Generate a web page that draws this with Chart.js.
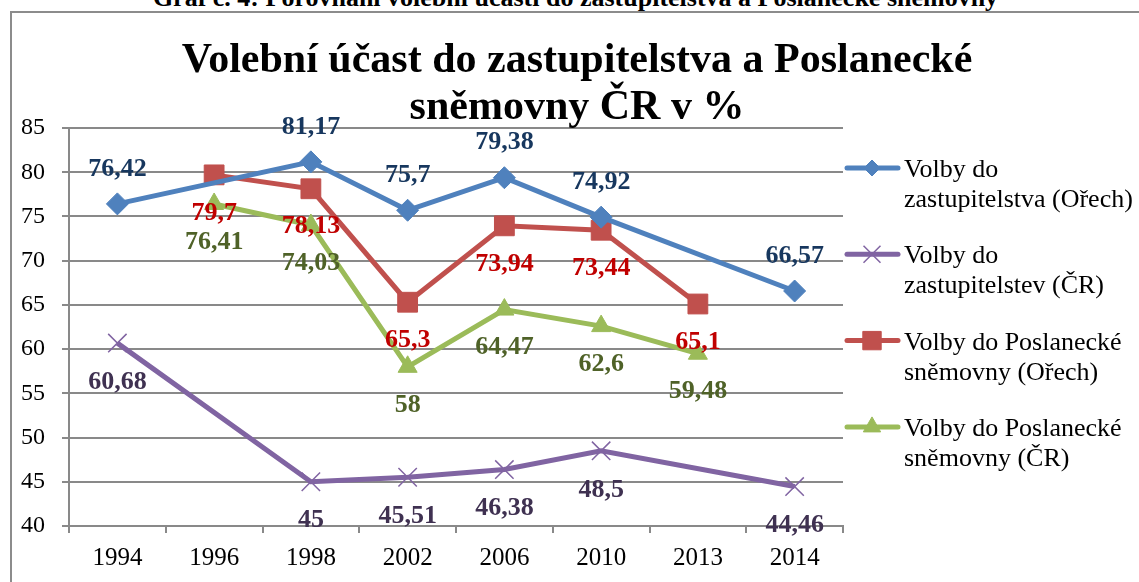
<!DOCTYPE html>
<html lang="cs">
<head>
<meta charset="utf-8">
<title>Volební účast do zastupitelstva a Poslanecké sněmovny ČR</title>
<script src="https://cdn.jsdelivr.net/npm/chart.js@4/dist/chart.umd.min.js"></script>
<style>
  html, body { margin: 0; padding: 0; background: #fff; overflow: hidden; }
  #wrap { position: relative; width: 1139px; height: 582px; overflow: hidden; }
  #frame { position: absolute; left: 10px; top: 11px; width: 1300px; height: 800px;
           border-left: 2px solid #8c8c8c; border-top: 2px solid #8c8c8c; }
  canvas { position: absolute; left: 0; top: 0; }
  #caption { position: absolute; left: 0; width: 1151px; top: -17px; text-align: center;
             font: bold 26px/30px "Liberation Serif", "Times New Roman", serif; white-space: nowrap; }
  #title { position: absolute; left: 0; width: 1154px; top: 35px; text-align: center;
           font: bold 42px/47px "Liberation Serif", "Times New Roman", serif; white-space: nowrap; }
</style>
</head>
<body>
<div id="wrap">
  <div id="caption">Graf č. 4: Porovnání volební účasti do zastupitelstva a Poslanecké sněmovny</div>
  <div id="frame"></div>
  <canvas id="turnout-chart" width="1139" height="582"></canvas>
  <div id="title">Volební účast do zastupitelstva a Poslanecké<br>sněmovny ČR v %</div>
</div>
<script>
// Chart data
const years = ['1994', '1996', '1998', '2002', '2006', '2010', '2013', '2014'];
const zastupitelstvoOrech = [76.42, null, 81.17, 75.7, 79.38, 74.92, null, 66.57];
const zastupitelstvaCR = [60.68, null, 45, 45.51, 46.38, 48.5, null, 44.46];
const snemovnaOrech = [null, 79.7, 78.13, 65.3, 73.94, 73.44, 65.1, null];
const snemovnaCR = [null, 76.41, 74.03, 58, 64.47, 62.6, 59.48, null];

// Value axis
const yMin = 40;
const yMax = 85;
const yStep = 5;

const serif = '"Liberation Serif", "Times New Roman", serif';
const gridGray = '#898989';

// Value labels next to every point (comma as decimal separator)
const valueLabels = {
  id: 'valueLabels',
  afterDatasetsDraw(chart) {
    const ctx = chart.ctx;
    ctx.save();
    ctx.font = 'bold 26px ' + serif;
    ctx.textAlign = 'center';
    ctx.textBaseline = 'middle';
    chart.data.datasets.forEach((ds, i) => {
      const meta = chart.getDatasetMeta(i);
      meta.data.forEach((pt, j) => {
        const v = ds.data[j];
        if (v === null || v === undefined) return;
        ctx.fillStyle = ds.labelColor;
        ctx.fillText(String(v).replace('.', ','), pt.x, pt.y + ds.labelOffset);
      });
    });
    ctx.restore();
  }
};

// Legend on the right with wrapped text
const sideLegend = {
  id: 'sideLegend',
  afterDraw(chart) {
    const ctx = chart.ctx;
    ctx.save();
    chart.data.datasets.forEach((ds, i) => {
      const y = 168 + i * 86.3;
      ctx.strokeStyle = ds.borderColor;
      ctx.lineWidth = 5;
      ctx.lineCap = 'round';
      ctx.beginPath();
      ctx.moveTo(847, y);
      ctx.lineTo(898, y);
      ctx.stroke();

      ctx.fillStyle = ds.pointBackgroundColor;
      ctx.strokeStyle = ds.pointBorderColor;
      ctx.lineWidth = ds.pointBorderWidth;
      ctx.lineCap = 'butt';
      Chart.helpers.drawPoint(ctx, {
        pointStyle: ds.pointStyle,
        radius: ds.legendRadius,
        borderWidth: ds.pointBorderWidth,
        rotation: 0
      }, 872, y);

      ctx.fillStyle = '#000';
      ctx.font = '26px ' + serif;
      ctx.textAlign = 'left';
      ctx.textBaseline = 'alphabetic';
      ds.label.split('\n').forEach((line, k) => {
        ctx.fillText(line, 904, y + 9 + k * 30);
      });
    });
    ctx.restore();
  }
};

const ctx = document.getElementById('turnout-chart').getContext('2d');
const turnoutChart = new Chart(ctx, {
  type: 'line',
  data: {
    labels: years,
    datasets: [
      {
        label: 'Volby do\nzastupitelstva (Ořech)',
        data: zastupitelstvoOrech,
        borderColor: '#4F81BD',
        pointBackgroundColor: '#4F81BD',
        pointBorderColor: '#4F81BD',
        pointStyle: 'rectRot',
        pointRadius: 11,
        pointBorderWidth: 1,
        legendRadius: 8,
        labelColor: '#17375E',
        labelOffset: -35,
        order: 0
      },
      {
        label: 'Volby do\nzastupitelstev (ČR)',
        data: zastupitelstvaCR,
        borderColor: '#8064A2',
        pointBackgroundColor: '#8064A2',
        pointBorderColor: '#8064A2',
        pointStyle: 'crossRot',
        pointRadius: 13,
        pointBorderWidth: 1.5,
        legendRadius: 12,
        labelColor: '#3F3151',
        labelOffset: 39,
        order: 3
      },
      {
        label: 'Volby do Poslanecké\nsněmovny (Ořech)',
        data: snemovnaOrech,
        borderColor: '#C0504D',
        pointBackgroundColor: '#C0504D',
        pointBorderColor: '#C0504D',
        pointStyle: 'rect',
        pointRadius: 14,
        pointBorderWidth: 1,
        legendRadius: 13,
        labelColor: '#C00000',
        labelOffset: 38,
        order: 2
      },
      {
        label: 'Volby do Poslanecké\nsněmovny (ČR)',
        data: snemovnaCR,
        borderColor: '#9BBB59',
        pointBackgroundColor: '#9BBB59',
        pointBorderColor: '#9BBB59',
        pointStyle: 'triangle',
        pointRadius: 11,
        pointBorderWidth: 1,
        legendRadius: 10,
        labelColor: '#4F6228',
        labelOffset: 38,
        order: 1
      }
    ]
  },
  options: {
    responsive: false,
    animation: false,
    events: [],
    spanGaps: true,
    elements: {
      line: { borderWidth: 5, tension: 0 }
    },
    layout: {
      padding: { left: 0, top: 128, right: 296, bottom: 0 }
    },
    plugins: {
      legend: { display: false },
      title: { display: false },
      tooltip: { enabled: false }
    },
    scales: {
      x: {
        offset: true,
        grid: {
          offset: true,
          drawOnChartArea: false,
          drawTicks: true,
          tickLength: 7,
          color: gridGray,
          lineWidth: 2
        },
        border: { display: true, color: gridGray, width: 2 },
        ticks: {
          color: '#000',
          font: { family: serif, size: 25 },
          padding: 10,
          maxRotation: 0
        },
        afterFit(scale) { scale.height = 56; }
      },
      y: {
        min: yMin,
        max: yMax,
        ticks: {
          stepSize: yStep,
          color: '#000',
          font: { family: serif, size: 24 },
          padding: 17
        },
        grid: {
          color: gridGray,
          lineWidth: 2,
          tickLength: 7
        },
        border: { display: true, color: gridGray, width: 2 },
        afterFit(scale) { scale.width = 69; }
      }
    }
  },
  plugins: [valueLabels, sideLegend]
});
</script>
</body>
</html>
